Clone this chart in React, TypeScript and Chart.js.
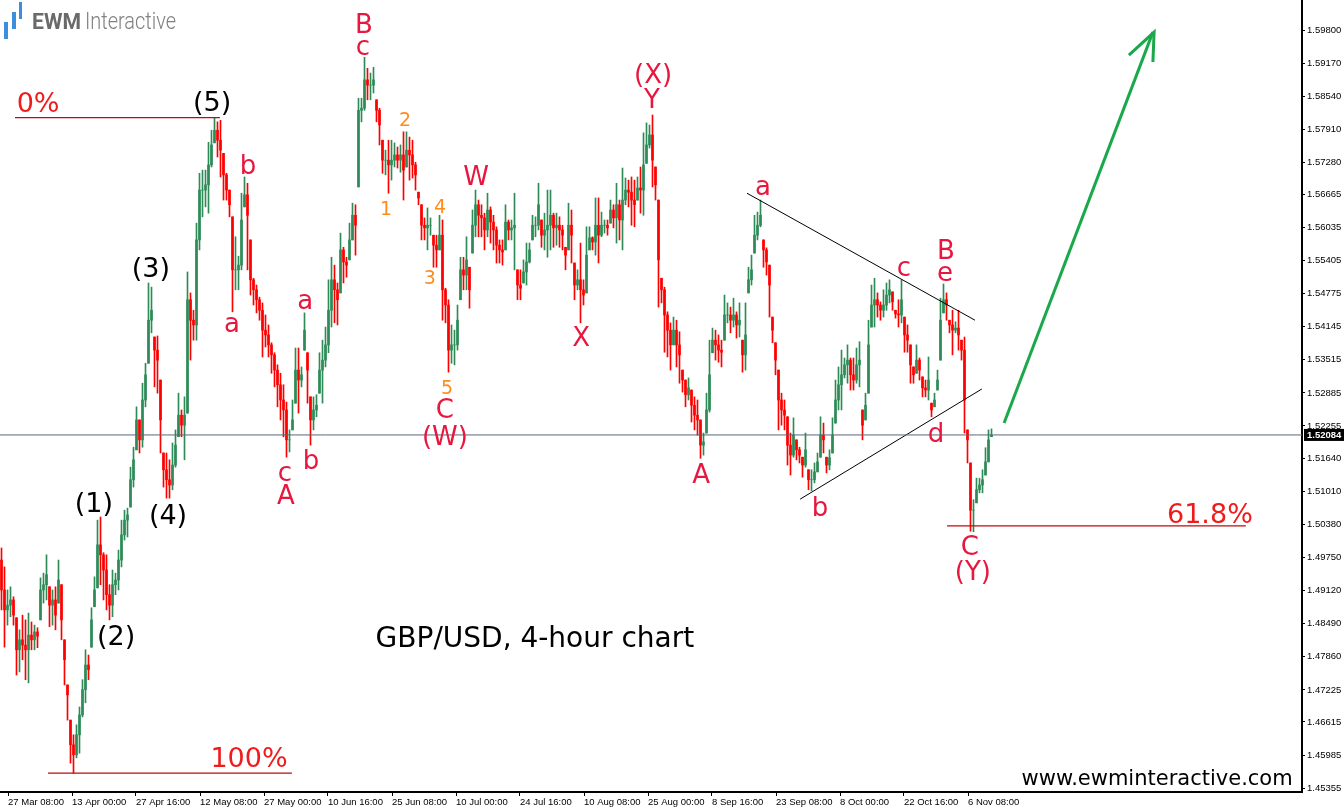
import React, { useEffect, useRef } from "react";
import { Chart, registerables } from "chart.js";

Chart.register(...registerables);

const highs = [1.4993,1.4957,1.4913,1.4919,1.4900,1.4860,1.4837,1.4865,1.4856,1.4869,1.4852,1.4846,1.4841,1.4936,1.4945,1.4980,1.4919,1.4913,1.4919,1.4970,1.4923,1.4818,1.4732,1.4665,1.4637,1.4656,1.4690,1.4742,1.4799,1.4789,1.4879,1.4938,1.5046,1.5052,1.4984,1.4980,1.4923,1.4951,1.4945,1.4989,1.5046,1.5065,1.5069,1.5147,1.5185,1.5262,1.5237,1.5307,1.5345,1.5498,1.5490,1.5395,1.5397,1.5313,1.5174,1.5174,1.5161,1.5193,1.5218,1.5288,1.5256,1.5281,1.5519,1.5479,1.5446,1.5612,1.5707,1.5713,1.5713,1.5766,1.5789,1.5812,1.5805,1.5808,1.5745,1.5707,1.5675,1.5624,1.5586,1.5549,1.5669,1.5700,1.5688,1.5580,1.5507,1.5494,1.5471,1.5460,1.5437,1.5418,1.5384,1.5365,1.5342,1.5326,1.5304,1.5271,1.5218,1.5275,1.5374,1.5374,1.5338,1.5441,1.5365,1.5281,1.5281,1.5285,1.5365,1.5389,1.5414,1.5504,1.5547,1.5532,1.5498,1.5593,1.5566,1.5547,1.5612,1.5650,1.5647,1.5850,1.5850,1.5928,1.5907,1.5898,1.5909,1.5847,1.5831,1.5770,1.5751,1.5770,1.5770,1.5765,1.5757,1.5761,1.5786,1.5786,1.5776,1.5770,1.5728,1.5671,1.5647,1.5622,1.5641,1.5622,1.5589,1.5589,1.5627,1.5618,1.5488,1.5466,1.5418,1.5408,1.5456,1.5547,1.5547,1.5586,1.5528,1.5637,1.5675,1.5656,1.5647,1.5631,1.5669,1.5643,1.5627,1.5605,1.5580,1.5580,1.5647,1.5618,1.5618,1.5669,1.5523,1.5523,1.5542,1.5574,1.5574,1.5627,1.5624,1.5688,1.5618,1.5631,1.5675,1.5675,1.5631,1.5631,1.5624,1.5608,1.5566,1.5650,1.5637,1.5536,1.5523,1.5574,1.5504,1.5605,1.5605,1.5586,1.5660,1.5660,1.5633,1.5618,1.5618,1.5656,1.5647,1.5688,1.5656,1.5717,1.5698,1.5694,1.5700,1.5694,1.5700,1.5719,1.5784,1.5803,1.5799,1.5818,1.5719,1.5656,1.5507,1.5490,1.5443,1.5422,1.5433,1.5427,1.5405,1.5332,1.5313,1.5317,1.5294,1.5281,1.5275,1.5237,1.5212,1.5288,1.5389,1.5412,1.5408,1.5399,1.5389,1.5475,1.5460,1.5452,1.5469,1.5443,1.5460,1.5389,1.5460,1.5528,1.5551,1.5627,1.5633,1.5656,1.5580,1.5565,1.5532,1.5433,1.5384,1.5332,1.5288,1.5275,1.5243,1.5212,1.5241,1.5199,1.5185,1.5166,1.5212,1.5142,1.5142,1.5155,1.5174,1.5243,1.5231,1.5166,1.5180,1.5241,1.5313,1.5338,1.5370,1.5355,1.5380,1.5355,1.5355,1.5374,1.5386,1.5256,1.5288,1.5427,1.5494,1.5507,1.5479,1.5462,1.5485,1.5498,1.5504,1.5481,1.5446,1.5466,1.5504,1.5433,1.5418,1.5380,1.5338,1.5380,1.5355,1.5319,1.5313,1.5357,1.5269,1.5288,1.5332,1.5469,1.5496,1.5479,1.5427,1.5446,1.5424,1.5446,1.5389,1.5395,1.5218,1.5155,1.5085,1.5126,1.5126,1.5142,1.5184,1.5218,1.5220];

const lows = [1.4875,1.4804,1.4846,1.4862,1.4846,1.4751,1.4757,1.4780,1.4742,1.4736,1.4799,1.4799,1.4803,1.4856,1.4888,1.4894,1.4843,1.4846,1.4837,1.4888,1.4818,1.4732,1.4665,1.4583,1.4564,1.4593,1.4602,1.4671,1.4698,1.4742,1.4804,1.4881,1.4917,1.4923,1.4894,1.4875,1.4856,1.4862,1.4904,1.4913,1.4957,1.5008,1.5014,1.5071,1.5109,1.5180,1.5174,1.5185,1.5262,1.5345,1.5403,1.5300,1.5288,1.5174,1.5109,1.5088,1.5088,1.5104,1.5147,1.5205,1.5205,1.5161,1.5250,1.5351,1.5389,1.5389,1.5561,1.5624,1.5643,1.5631,1.5719,1.5765,1.5738,1.5700,1.5656,1.5656,1.5624,1.5443,1.5485,1.5485,1.5523,1.5643,1.5523,1.5475,1.5456,1.5441,1.5427,1.5357,1.5376,1.5357,1.5326,1.5300,1.5262,1.5237,1.5205,1.5166,1.5176,1.5218,1.5269,1.5250,1.5300,1.5370,1.5269,1.5189,1.5218,1.5243,1.5288,1.5269,1.5338,1.5365,1.5414,1.5422,1.5418,1.5479,1.5498,1.5509,1.5542,1.5580,1.5551,1.5681,1.5805,1.5827,1.5847,1.5847,1.5860,1.5805,1.5761,1.5707,1.5704,1.5669,1.5694,1.5719,1.5717,1.5709,1.5656,1.5719,1.5694,1.5698,1.5675,1.5647,1.5580,1.5580,1.5561,1.5589,1.5528,1.5528,1.5561,1.5427,1.5422,1.5328,1.5345,1.5342,1.5370,1.5466,1.5485,1.5485,1.5450,1.5555,1.5586,1.5586,1.5586,1.5561,1.5586,1.5574,1.5561,1.5536,1.5536,1.5532,1.5561,1.5580,1.5580,1.5523,1.5466,1.5466,1.5498,1.5494,1.5536,1.5580,1.5586,1.5599,1.5566,1.5561,1.5547,1.5561,1.5566,1.5570,1.5566,1.5561,1.5523,1.5561,1.5536,1.5466,1.5485,1.5422,1.5456,1.5479,1.5561,1.5561,1.5551,1.5536,1.5586,1.5593,1.5589,1.5612,1.5603,1.5574,1.5580,1.5561,1.5647,1.5643,1.5608,1.5605,1.5656,1.5631,1.5627,1.5726,1.5755,1.5681,1.5656,1.5452,1.5460,1.5366,1.5357,1.5332,1.5380,1.5338,1.5307,1.5290,1.5262,1.5275,1.5233,1.5218,1.5208,1.5164,1.5170,1.5212,1.5252,1.5365,1.5351,1.5347,1.5338,1.5389,1.5422,1.5403,1.5414,1.5393,1.5395,1.5328,1.5332,1.5479,1.5494,1.5555,1.5580,1.5605,1.5528,1.5513,1.5433,1.5384,1.5323,1.5218,1.5227,1.5218,1.5151,1.5132,1.5166,1.5161,1.5155,1.5128,1.5147,1.5104,1.5102,1.5117,1.5138,1.5166,1.5174,1.5136,1.5142,1.5174,1.5231,1.5256,1.5256,1.5317,1.5307,1.5294,1.5294,1.5307,1.5300,1.5199,1.5237,1.5288,1.5414,1.5414,1.5433,1.5427,1.5433,1.5446,1.5460,1.5446,1.5431,1.5414,1.5422,1.5366,1.5366,1.5307,1.5307,1.5326,1.5313,1.5281,1.5281,1.5275,1.5243,1.5262,1.5294,1.5351,1.5441,1.5427,1.5403,1.5361,1.5403,1.5370,1.5351,1.5212,1.5155,1.5025,1.5024,1.5079,1.5098,1.5098,1.5132,1.5157,1.5205];

const closes = [1.4913,1.4875,1.4884,1.4894,1.4865,1.4799,1.4818,1.4808,1.4799,1.4827,1.4818,1.4833,1.4825,1.4913,1.4923,1.4942,1.4884,1.4894,1.4865,1.4932,1.4856,1.4780,1.4713,1.4618,1.4599,1.4637,1.4675,1.4723,1.4770,1.4761,1.4856,1.4913,1.4999,1.4980,1.4951,1.4904,1.4884,1.4923,1.4932,1.4970,1.5018,1.5046,1.5056,1.5123,1.5161,1.5237,1.5199,1.5275,1.5323,1.5427,1.5446,1.5370,1.5351,1.5237,1.5142,1.5123,1.5113,1.5151,1.5189,1.5246,1.5227,1.5246,1.5466,1.5427,1.5418,1.5580,1.5675,1.5675,1.5685,1.5723,1.5761,1.5789,1.5770,1.5751,1.5704,1.5675,1.5647,1.5523,1.5523,1.5532,1.5618,1.5666,1.5627,1.5504,1.5485,1.5466,1.5446,1.5408,1.5399,1.5380,1.5361,1.5332,1.5304,1.5275,1.5256,1.5199,1.5199,1.5237,1.5332,1.5313,1.5323,1.5408,1.5332,1.5237,1.5256,1.5265,1.5332,1.5351,1.5380,1.5446,1.5504,1.5485,1.5466,1.5561,1.5538,1.5532,1.5580,1.5627,1.5608,1.5827,1.5831,1.5885,1.5875,1.5875,1.5885,1.5827,1.5799,1.5732,1.5732,1.5723,1.5732,1.5742,1.5732,1.5742,1.5713,1.5751,1.5742,1.5723,1.5704,1.5660,1.5608,1.5603,1.5608,1.5608,1.5570,1.5561,1.5589,1.5485,1.5456,1.5370,1.5380,1.5380,1.5427,1.5523,1.5513,1.5542,1.5485,1.5608,1.5647,1.5627,1.5622,1.5599,1.5637,1.5614,1.5599,1.5570,1.5561,1.5557,1.5614,1.5599,1.5603,1.5608,1.5494,1.5488,1.5519,1.5538,1.5561,1.5608,1.5608,1.5647,1.5589,1.5599,1.5608,1.5627,1.5603,1.5608,1.5599,1.5589,1.5551,1.5608,1.5589,1.5494,1.5504,1.5485,1.5475,1.5551,1.5584,1.5576,1.5608,1.5589,1.5608,1.5608,1.5603,1.5637,1.5622,1.5647,1.5618,1.5656,1.5675,1.5671,1.5656,1.5647,1.5679,1.5675,1.5723,1.5761,1.5780,1.5732,1.5685,1.5542,1.5485,1.5437,1.5408,1.5380,1.5408,1.5380,1.5361,1.5313,1.5285,1.5298,1.5265,1.5246,1.5237,1.5189,1.5195,1.5256,1.5323,1.5389,1.5380,1.5370,1.5366,1.5437,1.5437,1.5427,1.5437,1.5418,1.5427,1.5361,1.5399,1.5504,1.5523,1.5589,1.5608,1.5627,1.5561,1.5538,1.5494,1.5408,1.5351,1.5275,1.5256,1.5246,1.5189,1.5170,1.5208,1.5180,1.5170,1.5151,1.5180,1.5123,1.5123,1.5138,1.5157,1.5208,1.5199,1.5151,1.5165,1.5208,1.5275,1.5304,1.5323,1.5342,1.5351,1.5323,1.5313,1.5342,1.5351,1.5227,1.5265,1.5380,1.5456,1.5466,1.5456,1.5446,1.5456,1.5475,1.5485,1.5462,1.5439,1.5437,1.5466,1.5399,1.5389,1.5342,1.5323,1.5351,1.5332,1.5298,1.5294,1.5313,1.5256,1.5275,1.5313,1.5427,1.5466,1.5456,1.5418,1.5408,1.5412,1.5399,1.5370,1.5275,1.5199,1.5065,1.5065,1.5104,1.5113,1.5123,1.5157,1.5199,1.5208];

const opens = [1.4970,1.4913,1.4875,1.4884,1.4894,1.4865,1.4799,1.4818,1.4808,1.4799,1.4827,1.4818,1.4833,1.4825,1.4913,1.4923,1.4942,1.4884,1.4894,1.4865,1.4932,1.4856,1.4780,1.4713,1.4618,1.4599,1.4637,1.4675,1.4723,1.4770,1.4761,1.4856,1.4913,1.4999,1.4980,1.4951,1.4904,1.4884,1.4923,1.4932,1.4970,1.5018,1.5046,1.5056,1.5123,1.5161,1.5237,1.5199,1.5275,1.5323,1.5427,1.5446,1.5370,1.5351,1.5237,1.5142,1.5123,1.5113,1.5151,1.5189,1.5246,1.5227,1.5246,1.5466,1.5427,1.5418,1.5580,1.5675,1.5675,1.5685,1.5723,1.5761,1.5789,1.5770,1.5751,1.5704,1.5675,1.5647,1.5523,1.5523,1.5532,1.5618,1.5666,1.5627,1.5504,1.5485,1.5466,1.5446,1.5408,1.5399,1.5380,1.5361,1.5332,1.5304,1.5275,1.5256,1.5199,1.5199,1.5237,1.5332,1.5313,1.5323,1.5408,1.5332,1.5237,1.5256,1.5265,1.5332,1.5351,1.5380,1.5446,1.5504,1.5485,1.5466,1.5561,1.5538,1.5532,1.5580,1.5627,1.5608,1.5827,1.5831,1.5885,1.5875,1.5875,1.5885,1.5827,1.5799,1.5732,1.5732,1.5723,1.5732,1.5742,1.5732,1.5742,1.5713,1.5751,1.5742,1.5723,1.5704,1.5660,1.5608,1.5603,1.5608,1.5608,1.5570,1.5561,1.5589,1.5485,1.5456,1.5370,1.5380,1.5380,1.5427,1.5523,1.5513,1.5542,1.5485,1.5608,1.5647,1.5627,1.5622,1.5599,1.5637,1.5614,1.5599,1.5570,1.5561,1.5557,1.5614,1.5599,1.5603,1.5608,1.5494,1.5488,1.5519,1.5538,1.5561,1.5608,1.5608,1.5647,1.5589,1.5599,1.5608,1.5627,1.5603,1.5608,1.5599,1.5589,1.5551,1.5608,1.5589,1.5494,1.5504,1.5485,1.5475,1.5551,1.5584,1.5576,1.5608,1.5589,1.5608,1.5608,1.5603,1.5637,1.5622,1.5647,1.5618,1.5656,1.5675,1.5671,1.5656,1.5647,1.5679,1.5675,1.5723,1.5761,1.5780,1.5732,1.5685,1.5542,1.5485,1.5437,1.5408,1.5380,1.5408,1.5380,1.5361,1.5313,1.5285,1.5298,1.5265,1.5246,1.5237,1.5189,1.5195,1.5256,1.5323,1.5389,1.5380,1.5370,1.5366,1.5437,1.5437,1.5427,1.5437,1.5418,1.5427,1.5361,1.5399,1.5504,1.5523,1.5589,1.5608,1.5627,1.5561,1.5538,1.5494,1.5408,1.5351,1.5275,1.5256,1.5246,1.5189,1.5170,1.5208,1.5180,1.5170,1.5151,1.5180,1.5123,1.5123,1.5138,1.5157,1.5208,1.5199,1.5151,1.5165,1.5208,1.5275,1.5304,1.5323,1.5342,1.5351,1.5323,1.5313,1.5342,1.5351,1.5227,1.5265,1.5380,1.5456,1.5466,1.5456,1.5446,1.5456,1.5475,1.5485,1.5462,1.5439,1.5437,1.5466,1.5399,1.5389,1.5342,1.5323,1.5351,1.5332,1.5298,1.5294,1.5313,1.5256,1.5275,1.5313,1.5427,1.5466,1.5456,1.5418,1.5408,1.5412,1.5399,1.5370,1.5275,1.5199,1.5065,1.5065,1.5104,1.5113,1.5123,1.5157,1.5199];

const priceTicks = [1.45355,1.45985,1.46615,1.47225,1.4786,1.4849,1.4912,1.4975,1.5038,1.5101,1.5164,1.52255,1.52885,1.53515,1.54145,1.54775,1.55405,1.56035,1.56665,1.5728,1.5791,1.5854,1.5917,1.598];
const dateTickBars = [2.17,23.5,44.83,66.17,87.5,108.83,130.17,151.5,172.83,194.17,215.5,236.83,258.17,279.5,300.83,322.17];
const dateTickLabels = ["27 Mar 08:00","13 Apr 00:00","27 Apr 16:00","12 May 08:00","27 May 00:00","10 Jun 16:00","25 Jun 08:00","10 Jul 00:00","24 Jul 16:00","10 Aug 08:00","25 Aug 00:00","8 Sep 16:00","23 Sep 08:00","8 Oct 00:00","22 Oct 16:00","6 Nov 08:00"];
const lastPrice = 1.52084;

const blackLabels = ["(5)","(3)","(1)","(4)","(2)"];
const blackBars = [70.2,49.8,30.8,55.5,38.2];
const blackPrices = [1.5843,1.5526,1.5079,1.5056,1.4825];

const redLabels = ["B","c","b","a","a","c","b","A","(X)","Y","W","X","C","(W)","A","a","b","c","B","e","d","C","(Y)"];
const redBars = [120.8,120.5,82.2,76.8,101.2,94.5,103.2,94.8,217.2,216.8,158.2,193.2,147.8,147.8,233.2,253.8,272.8,300.8,314.8,314.5,311.5,322.8,323.8];
const redPrices = [1.5991,1.5949,1.5723,1.5422,1.5466,1.5138,1.5161,1.5094,1.5896,1.5848,1.5702,1.5395,1.5258,1.5206,1.5134,1.5683,1.5071,1.5528,1.5561,1.5519,1.5212,1.4997,1.4949];

const levelLabels = ["0%","100%","61.8%"];
const levelBars = [12.2,82.5,402.8];
const levelPrices = [1.5841,1.4593,1.5058];

const subWaveLabels = ["1","2","3","4","5"];
const subWaveBars = [128.2,134.5,142.8,146.2,148.5];
const subWavePrices = [1.5641,1.581,1.5509,1.5645,1.53];

const barCount = 434;
const barNames = Array.from({ length: barCount }, (_, i) => `bar ${i}`);

const levelLines = [
  { x: [4.5, 72.8], y: [1.5813, 1.5813] },
  { x: [15.5, 96.8], y: [1.4564, 1.4564] },
  { x: [315.2, 414.8], y: [1.5035, 1.5035] },
];
const triangleLines = [
  { x: [248.5, 324.5], y: [1.5669, 1.5427] },
  { x: [266.2, 326.8], y: [1.5086, 1.5296] },
];
const arrowShaftX = [334.2, 383.8];
const arrowShaftY = [1.5231, 1.5976];
const arrowHeadX = [375.8, 384.2, 383.8];
const arrowHeadY = [1.5932, 1.5976, 1.5919];

const pts = (xs: number[], ys: number[]) => xs.map((x, i) => ({ x, y: ys[i] }));
const clamp = (v: number, lo: number, hi: number) => Math.min(hi, Math.max(lo, v));
const lineSet = (data: any[], color: string, width: number) => ({
  type: "line" as const,
  xAxisID: "dates",
  yAxisID: "y",
  data,
  borderColor: color,
  borderWidth: width,
  pointRadius: 0,
  tension: 0,
  order: 0,
  clip: false,
});

const overlayPlugin = {
  id: "overlay",
  afterDatasetsDraw(chart: any) {
    const { ctx, scales } = chart;
    const xs = scales.dates;
    const ys = scales.y;
    const put = (labels: string[], bars: number[], prices: number[], font: string, color: string) => {
      ctx.font = font;
      ctx.fillStyle = color;
      ctx.textAlign = "center";
      ctx.textBaseline = "middle";
      labels.forEach((t, i) => ctx.fillText(t, xs.getPixelForValue(bars[i]), ys.getPixelForValue(prices[i]) + 2));
    };
    ctx.save();
    put(blackLabels, blackBars, blackPrices, "27px 'DejaVu Sans'", "#000000");
    put(redLabels, redBars, redPrices, "26px 'DejaVu Sans'", "#e8173f");
    put(levelLabels, levelBars, levelPrices, "27px 'DejaVu Sans'", "#f01c1c");
    put(subWaveLabels, subWaveBars, subWavePrices, "19px 'DejaVu Sans'", "#ff8c1a");
    put(["GBP/USD, 4-hour chart"], [177.8], [1.4822], "28px 'DejaVu Sans'", "#000000");
    put(["www.ewminteractive.com"], [385.2], [1.4555], "21px 'DejaVu Sans'", "#000000");

    // last-price tag on the price axis
    const py = ys.getPixelForValue(lastPrice);
    ctx.fillStyle = "#000000";
    ctx.fillRect(xs.right + 2, py - 6, 40, 12);
    ctx.font = "bold 9.5px 'Liberation Sans'";
    ctx.fillStyle = "#ffffff";
    ctx.textAlign = "left";
    ctx.fillText(lastPrice.toFixed(5), xs.right + 5, py + 0.5);

    // brand mark
    ctx.fillStyle = "#3b8fdc";
    ctx.fillRect(4, 22, 4, 17);
    ctx.fillRect(12, 12, 4, 17);
    ctx.fillRect(19, 2, 3, 17);
    ctx.fillStyle = "#6a6a6a";
    ctx.textBaseline = "alphabetic";
    ctx.font = "bold 22px Roboto";
    ctx.fillText("EWM", 32, 29, 49);
    ctx.fillStyle = "#808080";
    ctx.font = "300 23px Roboto";
    ctx.fillText("Interactive", 85, 29, 91);
    ctx.restore();
  },
};

export default function App() {
  const ref = useRef<HTMLCanvasElement>(null);
  useEffect(() => {
    const n = closes.length;
    const idx = Array.from({ length: n }, (_, i) => i);
    const colors = idx.map((i) => (closes[i] >= opens[i] ? "#2e8b57" : "#ff0000"));
    const chart = new Chart(ref.current as HTMLCanvasElement, {
      type: "bar",
      data: {
        labels: barNames,
        datasets: [
          {
            label: "High-low",
            data: idx.map((i) => [lows[i], highs[i]]),
            backgroundColor: colors,
            barThickness: 1,
            grouped: false,
            borderWidth: 0,
            order: 2,
          },
          {
            label: "Open-close",
            data: idx.map((i) => [
              clamp(opens[i], lows[i], highs[i]),
              clamp(closes[i], lows[i], highs[i]),
            ]),
            backgroundColor: colors,
            barThickness: 2,
            grouped: false,
            borderWidth: 0,
            order: 1,
          },
          lineSet(pts([-0.5, 433.5], [lastPrice, lastPrice]), "#56677a", 1),
          ...levelLines.map((l) => lineSet(pts(l.x, l.y), "#c00a0a", 1.3)),
          ...triangleLines.map((l) => lineSet(pts(l.x, l.y), "#000000", 1)),
          lineSet(pts(arrowShaftX, arrowShaftY), "#1aa84b", 3),
          lineSet(pts(arrowHeadX, arrowHeadY), "#1aa84b", 3),
        ] as any,
      },
      options: {
        responsive: false,
        animation: false,
        events: [],
        layout: { padding: 0 },
        plugins: { legend: { display: false }, tooltip: { enabled: false } },
        scales: {
          x: { type: "category", display: false, offset: true, grid: { display: false } },
          dates: {
            type: "linear",
            position: "bottom",
            offset: false,
            min: -0.5,
            max: 433.5,
            grid: { offset: false, drawOnChartArea: false, drawTicks: true, tickLength: 4, tickColor: "#000000" },
            border: { color: "#000000", width: 2 },
            afterBuildTicks: (s: any) => {
              s.ticks = dateTickBars.map((value) => ({ value }));
            },
            afterFit: (s: any) => {
              s.height = 18;
            },
            ticks: {
              autoSkip: false,
              maxRotation: 0,
              align: "start",
              padding: 1,
              color: "#000000",
              font: { family: "'Liberation Sans'", size: 9.5 },
              callback: (_v: any, i: number) => dateTickLabels[i],
            },
          },
          y: {
            type: "linear",
            position: "right",
            min: 1.4528,
            max: 1.60372,
            grid: { drawOnChartArea: false, drawTicks: true, tickLength: 3, tickColor: "#000000" },
            border: { color: "#000000", width: 2 },
            afterBuildTicks: (s: any) => {
              s.ticks = priceTicks.map((value) => ({ value }));
            },
            afterFit: (s: any) => {
              s.width = 42;
              s.paddingTop = 0;
              s.paddingBottom = 0;
            },
            ticks: {
              autoSkip: false,
              padding: 2,
              color: "#000000",
              font: { family: "'Liberation Sans'", size: 9.5 },
              callback: (v: any) => Number(v).toFixed(5),
            },
          },
        },
      } as any,
      plugins: [overlayPlugin],
    });
    return () => chart.destroy();
  }, []);
  return (
    <div style={{ position: "absolute", left: 0, top: 0, width: 1344, height: 810, background: "#ffffff" }}>
      <canvas ref={ref} width={1344} height={810} style={{ display: "block" }} />
    </div>
  );
}
